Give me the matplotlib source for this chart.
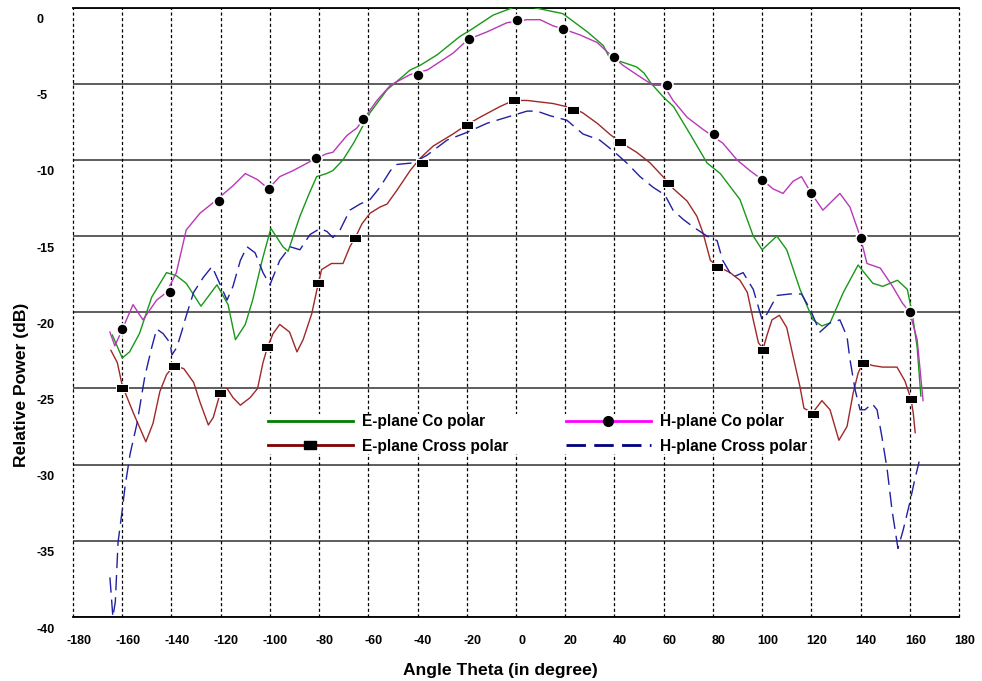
import numpy as np
import matplotlib
matplotlib.use("Agg")
import matplotlib.pyplot as plt
from matplotlib.lines import Line2D
from matplotlib.transforms import ScaledTranslation

plt.rcParams['font.family'] = ['Liberation Sans', 'DejaVu Sans']
plt.rcParams['font.weight'] = 'bold'
plt.rcParams['axes.unicode_minus'] = False

#   E-plane Co polar (green)
e_co_theta = [-164, -160, -157, -153, -148, -142, -138, -134, -128, -121.5, -117, -114, -110, -107, -103,
              -99.6, -94.7, -92.6, -87.8, -84, -81, -77, -74.4, -70.3, -66, -59.3, -52.4, -43, -39, -32,
              -22.8, -18.7, -9.3, -1.2, 7, 19, 29, 35.5, 38, 43.5, 49, 52, 55, 60, 64, 70.7, 77.6, 83, 91,
              96.4, 100, 106, 110, 115.4, 120.7, 124.3, 127.6, 133, 139, 145, 149, 155, 159, 161, 163, 164.5]
e_co_db = [-21.5, -23.0, -22.6, -21.4, -19.0, -17.4, -17.6, -18.1, -19.6, -18.2, -19.5, -21.8, -20.8, -19.2, -16.5,
           -14.5, -15.7, -16.0, -13.7, -12.2, -11.1, -10.9, -10.7, -10.0, -8.9, -6.9, -5.4, -4.1, -3.8, -3.1,
           -1.9, -1.5, -0.5, 0.0, 0.0, -0.4, -1.6, -2.5, -3.3, -3.6, -3.9, -4.3, -5.0, -5.9, -6.5, -8.3, -10.2, -10.9, -12.6,
           -15.0, -15.9, -15.0, -15.9, -18.5, -20.5, -20.9, -20.7, -18.7, -16.9, -18.1, -18.3, -17.9, -18.5, -20.1, -22.3, -25.5]

#   H-plane Co polar (magenta)
h_co_theta = [-165, -163, -161, -155.6, -151.6, -146, -142, -138, -134, -128.4, -123, -115, -110, -105, -100.6,
              -96, -90.5, -82.4, -77, -74.4, -68.7, -64.6, -61.8, -56.5, -51, -43, -36, -25.6, -19.5, -11.8,
              -3.7, 4.5, 9.8, 15, 19, 26, 33, 37, 43.5, 49, 55.7, 60, 63.8, 69.5, 76, 84, 89.8, 95, 100,
              104.4, 108.5, 112.6, 116, 120, 124.7, 131.6, 135.7, 140, 142.6, 148, 153, 157, 160, 163, 165.4]
h_co_db = [-21.3, -22.2, -21.5, -19.5, -20.5, -19.2, -18.7, -17.4, -14.6, -13.5, -12.8, -11.7, -10.9, -11.3, -11.9,
           -11.1, -10.7, -10.0, -9.6, -9.5, -8.4, -7.9, -7.3, -6.1, -5.1, -4.4, -4.1, -3.0, -2.1, -1.6,
           -1.0, -0.8, -0.8, -1.2, -1.4, -1.8, -2.3, -2.9, -3.8, -4.4, -5.1, -5.1, -6.1, -7.2, -8.0, -8.9, -10.0, -10.7, -11.3,
           -11.9, -12.2, -11.4, -11.1, -12.2, -13.3, -12.2, -13.1, -15.1, -16.8, -17.1, -18.3, -19.4, -20.0, -21.8, -25.8]
h_co_mk_theta = [-160, -140.6, -120.7, -100.4, -81.3, -62, -39.8, -19.3, 0.4, 19.1, 39.8, 61.4, 80.5, 100, 120, 140, 160]
h_co_mk_db = [-21.1, -18.7, -12.7, -11.9, -9.9, -7.3, -4.4, -2.1, -0.85, -1.4, -3.25, -5.1, -8.3, -11.3, -12.2, -15.1, -20.0]

#   E-plane Cross polar (dark red)
e_x_theta = [-164.6, -162, -160, -158, -155.5, -150.4, -147.5, -144.7, -142, -139, -135, -131, -128.4, -125, -123,
             -120, -117.4, -115, -112, -108, -105, -102.8, -101, -98.7, -96, -92, -89, -86.5, -83, -81, -79, -75,
             -70.3, -67.5, -65, -62.6, -59.3, -55.3, -52.4, -48.4, -43, -39, -33.7, -25.6, -20, -14.6, -6.5, -1,
             4.5, 15, 23, 27, 33, 38, 42, 49, 54.5, 62, 64, 69.5, 73.5, 76, 79, 82, 87, 91, 94, 96.4, 98.5,
             100.4, 102, 104, 107, 110, 112.6, 115.4, 117, 120.5, 124.3, 127.6, 131.2, 134.5, 137, 139, 141, 145,
             149, 154.8, 158, 160.5, 161.4, 162.2]
e_x_db = [-22.5, -23.3, -24.8, -25.6, -26.6, -28.5, -27.3, -25.2, -24.1, -23.5, -23.7, -24.6, -25.9, -27.4, -26.9,
          -25.2, -25.0, -25.6, -26.1, -25.6, -25.0, -23.3, -22.3, -21.4, -20.8, -21.3, -22.6, -21.8, -20.1, -18.6, -17.2, -16.8,
          -16.8, -15.7, -15.0, -14.2, -13.5, -13.1, -12.9, -12.0, -10.7, -9.9, -9.1, -8.3, -7.7, -7.2, -6.5, -6.1,
          -6.1, -6.3, -6.6, -6.9, -7.6, -8.3, -8.8, -9.5, -10.2, -11.5, -11.9, -12.7, -13.7, -14.8, -16.6, -17.0, -17.4, -17.9, -18.7, -20.5, -22.0,
          -22.4, -21.5, -20.5, -20.2, -21.0, -22.9, -24.9, -26.3, -26.6, -25.8, -26.4, -28.4, -27.5, -25.3, -24.0, -23.3, -23.5,
          -23.6, -23.6, -24.5, -25.7, -26.6, -27.9]
e_x_mk_theta = [-160.1, -139, -120.3, -101.2, -80.5, -65.4, -38.2, -19.9, -0.8, 23.2, 42.3, 61.8, 81.7, 100.4, 120.7, 141, 160.5]
e_x_mk_db = [-25.0, -23.5, -25.3, -22.3, -18.1, -15.1, -10.2, -7.7, -6.1, -6.7, -8.8, -11.5, -17.0, -22.5, -26.7, -23.3, -25.7]

#   H-plane Cross polar (navy, dashed)
h_x_theta = [-165, -163.8, -162.8, -161.7, -160, -158.9, -156.8, -154, -150.8, -148, -146, -143.4, -140.6, -139.8,
             -137.8, -135.7, -134.5, -131, -127, -123.5, -121, -117.4, -115, -112, -109.3, -106, -102.8, -100,
             -96, -91.8, -87.8, -83.7, -79.6, -76.8, -74.4, -71.5, -67.5, -63.4, -59.3, -55.3, -51, -48.4, -41.9,
             -36.2, -28, -20, -11.8, -3.7, 4.5, 8.5, 13.8, 20.7, 27.2, 34, 39.4, 45, 50.4, 55.7, 60.5, 63.8, 67.9,
             72, 77.6, 81.7, 84, 88, 92.3, 96.4, 100, 102, 106, 111.3, 116, 119.5, 123.5, 127.6, 131.6, 134.5,
             135.7, 137.8, 139.8, 141.8, 144.7, 146.7, 148.7, 150.8, 152.8, 155.2, 157.3, 160, 162, 163.8]
h_x_db = [-37.4, -40.0, -39.0, -35.1, -33.0, -31.5, -29.3, -27.3, -24.2, -22.3, -21.1, -21.4, -22.0, -22.8,
          -22.3, -21.2, -20.5, -18.7, -17.7, -17.0, -17.9, -19.2, -18.3, -16.6, -15.7, -16.1, -17.4, -18.2,
          -16.6, -15.7, -15.9, -14.9, -14.5, -14.7, -15.1, -14.6, -13.3, -12.9, -12.6, -11.8, -10.7, -10.3, -10.2,
          -9.7, -8.7, -8.2, -7.6, -7.2, -6.8, -6.8, -7.1, -7.4, -8.3, -8.7, -9.4, -10.2, -11.1, -11.8, -12.3, -13.3, -13.9,
          -14.4, -15.0, -15.3, -16.6, -17.7, -17.4, -18.5, -20.5, -20.1, -18.9, -18.8, -18.8, -19.8, -21.3, -20.7, -20.5, -21.6,
          -23.1, -25.1, -26.4, -26.4, -26.0, -26.4, -28.2, -30.3, -33.0, -35.5, -34.3, -32.5, -31.0, -29.8]

x_ticks = list(range(-180, 181, 20))
y_ticks = list(range(-40, 1, 5))
labels = ["E-plane Co polar", "E-plane Cross polar", "H-plane Co polar", "H-plane Cross polar"]

rect = [(-1, -0.68), (1, -0.68), (1, 0.68), (-1, 0.68), (-1, -0.68)]

fig = plt.figure(figsize=(9.82, 6.81), dpi=100)
ax = fig.add_axes([73 / 982, 64 / 681, 886 / 982, 609.5 / 681])
ax.set_xlim(-180, 180)
ax.set_ylim(-40, 0)
ax.set_xticks(x_ticks)
ax.set_yticks(y_ticks)

for y in y_ticks:
    ax.axhline(y, color='#505050', lw=1.3, zorder=1)
for x in x_ticks:
    ax.axvline(x, color='black', lw=0.9, ls=(0, (2.5, 2)), zorder=1, clip_on=False)
for s in ['left', 'right']:
    ax.spines[s].set_visible(False)
for s in ['top', 'bottom']:
    ax.spines[s].set_linewidth(1.3)

ax.plot(e_co_theta, e_co_db, color='#189818', lw=1.0, zorder=3)
ax.plot(h_co_theta, h_co_db, color='#b838b8', lw=1.0, zorder=3)
ax.plot(e_x_theta, e_x_db, color='#a02828', lw=1.0, zorder=3)
ax.plot(h_x_theta, h_x_db, color='#2020a0', lw=1.0, dashes=(11, 5), zorder=3)
ax.plot(h_co_mk_theta, h_co_mk_db, 'o', color='black', ms=8, mec='white', mew=1.2, zorder=4)
ax.plot(e_x_mk_theta, e_x_mk_db, ls='none', marker=rect, color='black', ms=8, mec='white', mew=0.7, zorder=4)

ax.tick_params(length=0, labelsize=9)
ax.tick_params(axis='y', pad=26.6)
ax.tick_params(axis='x', pad=13)
down = ScaledTranslation(0, -8 / 72, fig.dpi_scale_trans)
right = ScaledTranslation(4 / 72, 0, fig.dpi_scale_trans)
for t in ax.yaxis.get_major_ticks():
    t.label1.set_ha('left')
    t.label1.set_transform(t.label1.get_transform() + down)
for t in ax.xaxis.get_major_ticks():
    t.label1.set_transform(t.label1.get_transform() + right)

ax.set_ylabel("Relative Power (dB)", fontsize=12.6, fontweight='bold', va='center')
ax.yaxis.set_label_coords(-0.0581, 0.3806)
ax.set_xlabel("Angle Theta (in degree)", fontsize=12.6, fontweight='bold', va='center')
ax.xaxis.set_label_coords(0.4825, -0.087)

h1 = Line2D([], [], color='#008000', lw=2)
h2 = Line2D([], [], color='#800000', lw=2, marker=rect, ms=8, mfc='black', mec='black')
h3 = Line2D([], [], color='#ff00ff', lw=2, marker='o', ms=7, mfc='black', mec='black')
h4 = Line2D([], [], color='#000080', lw=2, dashes=(7, 3))
leg = ax.legend([h1, h2, h3, h4], labels, ncol=2, loc='upper left', bbox_to_anchor=(0.22, 0.333),
                frameon=True, facecolor='white', edgecolor='none', framealpha=1, fancybox=False,
                fontsize=11.2, handlelength=5.46, handletextpad=0.58, columnspacing=3.7,
                labelspacing=0.62, borderpad=0, borderaxespad=0, numpoints=1)
leg.set_zorder(5)

fig.savefig("out.png", dpi=100)
